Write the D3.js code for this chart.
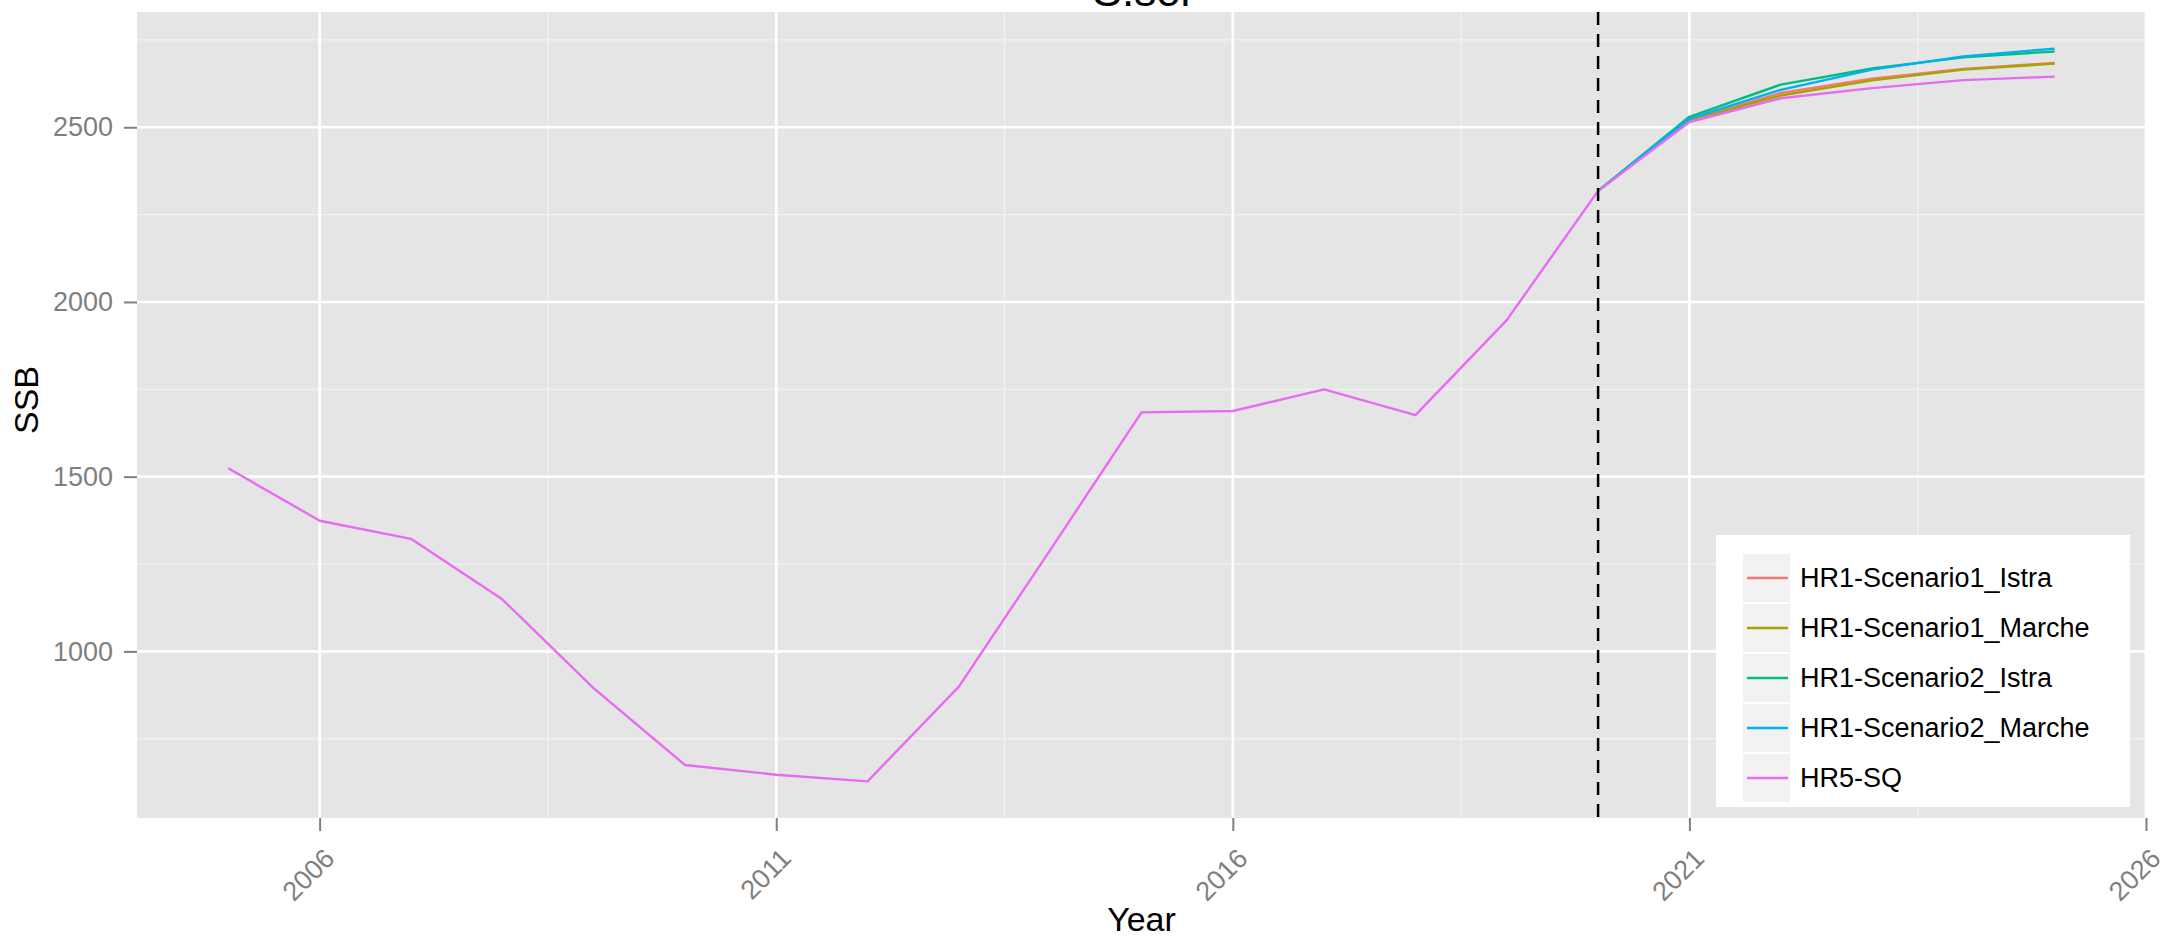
<!DOCTYPE html>
<html>
<head>
<meta charset="utf-8">
<script src="https://cdn.jsdelivr.net/npm/d3@7"></script>
<style>
  html, body { margin: 0; padding: 0; background: #ffffff; }
  svg { display: block; font-family: "Liberation Sans", Arial, Helvetica, sans-serif; }
</style>
</head>
<body>
<svg id="chart" width="2161" height="940"></svg>
<script>
// ---------------- data ----------------
const years = [2005, 2006, 2007, 2008, 2009, 2010, 2011, 2012, 2013, 2014,
               2015, 2016, 2017, 2018, 2019, 2020, 2021, 2022, 2023, 2024, 2025];
const hr5SQ = [1524, 1374, 1322, 1149, 895, 675, 647, 628, 899, 1290,
               1684, 1688, 1750, 1676, 1948, 2318, 2515, 2583, 2612, 2635, 2645];

const projYears = [2020, 2021, 2022, 2023, 2024, 2025];
const hr1S1Istra  = [2318, 2521, 2598, 2639, 2667, 2684];
const hr1S1Marche = [2318, 2520, 2591, 2634, 2665, 2682];
const hr1S2Istra  = [2318, 2530, 2622, 2668, 2700, 2717];
const hr1S2Marche = [2318, 2525, 2607, 2665, 2703, 2725];

const seriesNames = ["HR1-Scenario1_Istra", "HR1-Scenario1_Marche",
                     "HR1-Scenario2_Istra", "HR1-Scenario2_Marche", "HR5-SQ"];
const seriesColors = ["#F8766D", "#A3A500", "#00BF7D", "#00B0F6", "#E76BF3"];

const xTicks = [2006, 2011, 2016, 2021, 2026];
const xMinor = [2008.5, 2013.5, 2018.5, 2023.5];
const yTicks = [1000, 1500, 2000, 2500];
const yMinor = [750, 1250, 1750, 2250, 2750];
const vlineYear = 2020;
const titleText = "S.sol";
const xTitle = "Year";
const yTitle = "SSB";

// ---------------- build series ----------------
const series = [
  {name: seriesNames[0], xs: projYears, ys: hr1S1Istra},
  {name: seriesNames[1], xs: projYears, ys: hr1S1Marche},
  {name: seriesNames[2], xs: projYears, ys: hr1S2Istra},
  {name: seriesNames[3], xs: projYears, ys: hr1S2Marche},
  {name: seriesNames[4], xs: years, ys: hr5SQ}
].map((s, i) => ({...s, color: seriesColors[i],
  pts: s.xs.map((x, j) => ({x: x, y: s.ys[j]}))}));

// ---------------- layout ----------------
const panel = {left: 137, right: 2146, top: 12, bottom: 818};
const svg = d3.select("#chart");

function expand(ext, f) { const r = ext[1] - ext[0]; return [ext[0] - r * f, ext[1] + r * f]; }
const allY = series.flatMap(s => s.ys);
const xExt = d3.extent(years);
const x = d3.scaleLinear().domain(expand(xExt, 0.05)).range([panel.left, panel.right]);
const y = d3.scaleLinear().domain(expand(d3.extent(allY), 0.05)).range([panel.bottom, panel.top]);

// panel background
svg.append("rect")
  .attr("x", panel.left).attr("y", panel.top)
  .attr("width", panel.right - panel.left).attr("height", panel.bottom - panel.top)
  .attr("fill", "#E5E5E5");

const grid = svg.append("g");
// minor grid
grid.selectAll(".ymin").data(yMinor.filter(v => v >= y.domain()[0] && v <= y.domain()[1])).enter()
  .append("line").attr("x1", panel.left).attr("x2", panel.right)
  .attr("y1", d => y(d)).attr("y2", d => y(d))
  .attr("stroke", "#F2F2F2").attr("stroke-width", 1.3);
grid.selectAll(".xmin").data(xMinor).enter()
  .append("line").attr("y1", panel.top).attr("y2", panel.bottom)
  .attr("x1", d => x(d)).attr("x2", d => x(d))
  .attr("stroke", "#F2F2F2").attr("stroke-width", 1.3);
// major grid
grid.selectAll(".ymaj").data(yTicks).enter()
  .append("line").attr("x1", panel.left).attr("x2", panel.right)
  .attr("y1", d => y(d)).attr("y2", d => y(d))
  .attr("stroke", "#FFFFFF").attr("stroke-width", 2.6);
grid.selectAll(".xmaj").data(xTicks).enter()
  .append("line").attr("y1", panel.top).attr("y2", panel.bottom)
  .attr("x1", d => x(d)).attr("x2", d => x(d))
  .attr("stroke", "#FFFFFF").attr("stroke-width", 2.6);

// lines
const line = d3.line().x(d => x(d.x)).y(d => y(d.y));
svg.append("g").selectAll("path").data(series).enter()
  .append("path")
  .attr("d", d => line(d.pts))
  .attr("fill", "none")
  .attr("stroke", d => d.color)
  .attr("stroke-width", 2.4)
  .attr("stroke-linejoin", "round");

// dashed vertical line
svg.append("line")
  .attr("x1", x(vlineYear)).attr("x2", x(vlineYear))
  .attr("y1", panel.top).attr("y2", panel.bottom)
  .attr("stroke", "#000000").attr("stroke-width", 2.5)
  .attr("stroke-dasharray", "13,9");

// axes
const tickColor = "#7F7F7F";
const xAxis = d3.axisBottom(x).tickValues(xTicks).tickFormat(d3.format("d")).tickSize(13).tickSizeOuter(0);
const gx = svg.append("g").attr("transform", `translate(0,${panel.bottom})`).call(xAxis);
gx.select(".domain").remove();
gx.selectAll(".tick line").attr("stroke", tickColor).attr("stroke-width", 2);
gx.selectAll(".tick text")
  .attr("fill", tickColor)
  .style("font-size", "27px")
  .attr("text-anchor", "end")
  .attr("x", 0).attr("y", 0).attr("dy", 0)
  .attr("transform", "translate(16,42) rotate(-45)");

const yAxis = d3.axisLeft(y).tickValues(yTicks).tickFormat(d3.format("d")).tickSize(13).tickSizeOuter(0).tickPadding(11);
const gy = svg.append("g").attr("transform", `translate(${panel.left},0)`).call(yAxis);
gy.select(".domain").remove();
gy.selectAll(".tick line").attr("stroke", tickColor).attr("stroke-width", 2);
gy.selectAll(".tick text").attr("fill", tickColor).style("font-size", "27px");

// axis titles
svg.append("text")
  .attr("x", (panel.left + panel.right) / 2).attr("y", 931)
  .attr("text-anchor", "middle").style("font-size", "34px").attr("fill", "#000")
  .text(xTitle);
svg.append("text")
  .attr("transform", `translate(38,${(panel.top + panel.bottom) / 2 - 15}) rotate(-90)`)
  .attr("text-anchor", "middle").style("font-size", "34px").attr("fill", "#000")
  .text(yTitle);

// title (mostly cut off at the top)
svg.append("text")
  .attr("x", (panel.left + panel.right) / 2).attr("y", 6)
  .attr("text-anchor", "middle").style("font-size", "44px").attr("fill", "#000")
  .text(titleText);

// legend
const legend = svg.append("g");
legend.append("rect")
  .attr("x", 1716).attr("y", 535).attr("width", 414).attr("height", 272)
  .attr("fill", "#FFFFFF");
const rows = legend.selectAll(".row").data(series).enter().append("g")
  .attr("transform", (d, i) => `translate(1743,${578 + i * 50})`);
rows.append("rect").attr("x", 0).attr("y", -24).attr("width", 47).attr("height", 48)
  .attr("fill", "#F2F2F2");
rows.append("line").attr("x1", 4).attr("x2", 45).attr("y1", 0).attr("y2", 0)
  .attr("stroke", d => d.color).attr("stroke-width", 2.4);
rows.append("text").attr("x", 57).attr("y", 0).attr("dy", "0.35em")
  .style("font-size", "27px").attr("fill", "#000")
  .text(d => d.name);
</script>
</body>
</html>
